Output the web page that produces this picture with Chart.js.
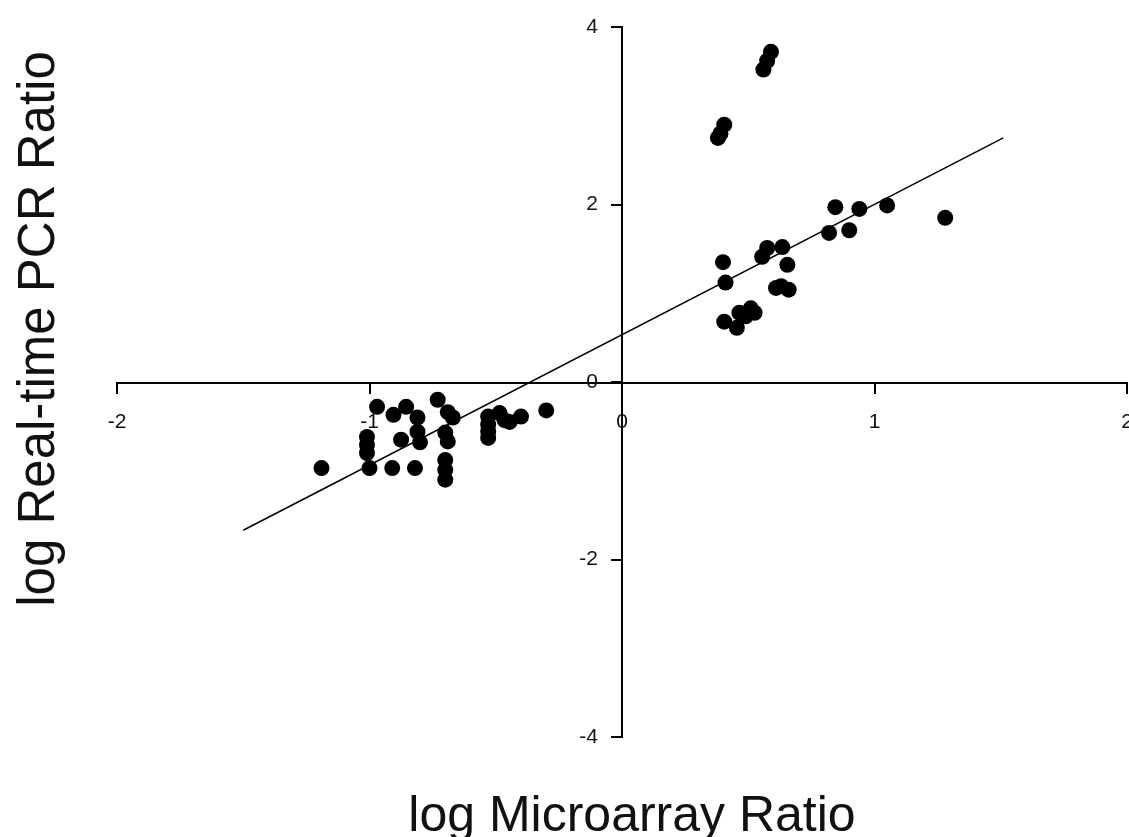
<!DOCTYPE html>
<html>
<head>
<meta charset="utf-8">
<script src="https://cdn.jsdelivr.net/npm/chart.js@4"></script>
<style>
  body { margin: 0; background: #fff; }
  canvas { display: block; }
</style>
</head>
<body>
<canvas id="chart" width="1129" height="837"></canvas>
<script>
// ================= Data =================
const microarray = [
    -1.19, -0.97, -1.01, -1.01, -1.01, -1.00, -0.91, -0.82, -0.70, -0.70,
    -0.70, -0.905, -0.855, -0.81, -0.875, -0.80, -0.81, -0.73, -0.69, -0.67,
    -0.70, -0.69, -0.53, -0.53, -0.53, -0.53, -0.485, -0.465, -0.445, -0.40, -0.30,
    0.59, 0.575, 0.56, 0.405, 0.39, 0.38,
    0.845, 0.94, 1.05, 1.28, 0.82, 0.90,
    0.40, 0.41, 0.555, 0.575, 0.635, 0.655,
    0.61, 0.66, 0.63, 0.405, 0.465, 0.51, 0.455, 0.525, 0.49
];
const realtimePCR = [
    -0.97, -0.28, -0.62, -0.71, -0.80, -0.97, -0.97, -0.97, -0.88, -0.99,
    -1.10, -0.37, -0.28, -0.40, -0.65, -0.68, -0.56, -0.20, -0.34, -0.40,
    -0.57, -0.67, -0.39, -0.48, -0.56, -0.63, -0.35, -0.43, -0.45, -0.39, -0.32,
    3.72, 3.62, 3.52, 2.90, 2.80, 2.75,
    1.97, 1.95, 1.99, 1.85, 1.68, 1.71,
    1.35, 1.12, 1.41, 1.51, 1.52, 1.32,
    1.06, 1.04, 1.08, 0.68, 0.78, 0.83, 0.61, 0.78, 0.74
];
const fitX = [-1.5, 1.51];
const fitY = [-1.67, 2.75];
const xTicks = [-2, -1, 0, 1, 2];
const yTicks = [-4, -2, 0, 2, 4];

const xTitle = "log Microarray Ratio";
const yTitle = "log Real-time PCR Ratio";

// ================= Chart =================
const tickFont = { family: "'Liberation Sans', Arial, sans-serif", size: 21 };
const titleFont = "50px 'Liberation Sans', Arial, sans-serif";

const axisTitles = {
    id: "axisTitles",
    afterDraw(chart) {
        const ctx = chart.ctx;
        ctx.save();
        ctx.fillStyle = "#111";
        ctx.font = titleFont;
        ctx.textAlign = "center";
        ctx.textBaseline = "alphabetic";
        ctx.fillText(xTitle, 632, 831);
        ctx.font = "51px 'Liberation Sans', Arial, sans-serif";
        ctx.translate(54, 329);
        ctx.rotate(-Math.PI / 2);
        ctx.fillText(yTitle, 0, 0);
        ctx.restore();
    }
};

function noPad(axis) {
    axis.paddingLeft = 0;
    axis.paddingRight = 0;
    axis.paddingTop = 0;
    axis.paddingBottom = 0;
}

new Chart(document.getElementById("chart").getContext("2d"), {
    type: "scatter",
    data: {
        datasets: [{
            data: microarray.map((x, i) => ({ x: x, y: realtimePCR[i] })),
            backgroundColor: "#000",
            borderWidth: 0,
            pointRadius: 8,
            pointHoverRadius: 8
        }, {
            type: "line",
            data: fitX.map((x, i) => ({ x: x, y: fitY[i] })),
            borderColor: "#000",
            borderWidth: 1.5,
            pointRadius: 0,
            fill: false
        }]
    },
    plugins: [axisTitles],
    options: {
        responsive: false,
        animation: false,
        devicePixelRatio: 1,
        layout: { autoPadding: false, padding: { left: 117, right: 2, top: 27, bottom: 100 } },
        plugins: { legend: { display: false }, tooltip: { enabled: false } },
        scales: {
            x: {
                type: "linear",
                min: -2, max: 2,
                position: "center",
                afterFit: noPad,
                afterBuildTicks: axis => { axis.ticks = xTicks.map(v => ({ value: v })); },
                grid: { drawOnChartArea: false, drawTicks: true, tickLength: 10, color: "#000", lineWidth: 2 },
                border: { display: true, color: "#000", width: 2 },
                ticks: { color: "#111", font: tickFont, padding: 18, maxRotation: 0 }
            },
            y: {
                type: "linear",
                min: -4, max: 4,
                position: "center",
                afterFit: noPad,
                afterBuildTicks: axis => { axis.ticks = yTicks.map(v => ({ value: v })); },
                grid: { drawOnChartArea: false, drawTicks: true, tickLength: 10, color: "#000", lineWidth: 2 },
                border: { display: true, color: "#000", width: 2 },
                ticks: { color: "#111", font: tickFont, padding: 14 }
            }
        }
    }
});
</script>
</body>
</html>
